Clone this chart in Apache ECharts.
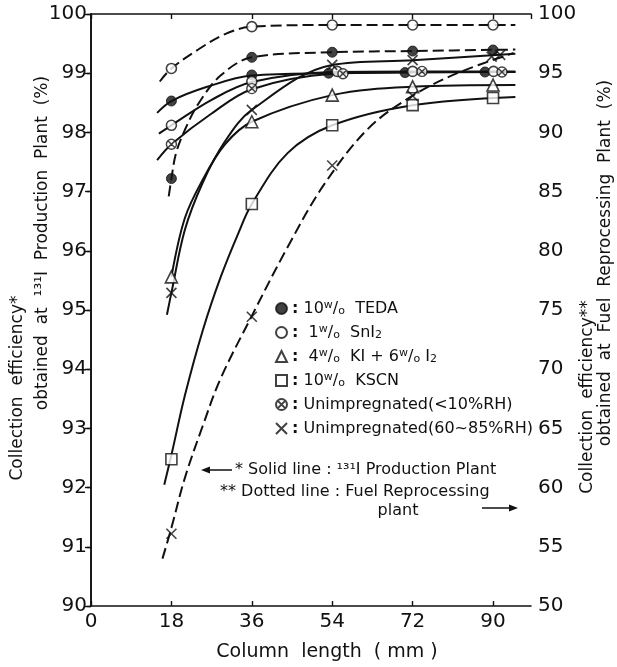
<!DOCTYPE html>
<html><head><meta charset="utf-8">
<script src="https://cdn.jsdelivr.net/npm/echarts@6/dist/echarts.min.js"></script>
<style>html,body{margin:0;padding:0;background:#fff}#c{width:617px;height:667px}</style>
</head><body><div id="c"></div>
<script>
// ---- data ----
const columnLength = [18, 36, 54, 72, 90];            // mm (nominal)
const xTickLabels = [0, 18, 36, 54, 72, 90];
// plotted marker x positions (markers of overlapping series are shifted in the figure)
const xTeda  = [18, 36, 53.2, 70.3, 88.2];
const xSnI   = [18, 36, 55.1, 72.0, 90.1];
const xDry   = [18, 36, 56.4, 74.1, 92.0];
const xWet   = [18, 36, 54, 72, 91.6];
const xWetF  = [18, 36, 54, 72, 89.7];

// 131I Production plant (left axis, solid lines)
const tedaProd   = [98.53, 98.97, 99.00, 99.01, 99.02];
const sniProd    = [98.12, 98.86, 99.03, 99.03, 99.03];
const kiProd     = [95.56, 98.18, 98.63, 98.77, 98.80];
const kscnProd   = [92.48, 96.79, 98.12, 98.46, 98.58];
const dryProd    = [97.80, 98.74, 98.99, 99.03, 99.02];
const wetProd    = [95.29, 98.38, 99.14, 99.22, 99.31];
// Fuel reprocessing plant (right axis, dashed lines)
const tedaFuel   = [86.1, 96.34, 96.77, 96.87, 96.96];
const sniFuel    = [95.4, 98.93, 99.07, 99.07, 99.07];
const wetFuel    = [56.1, 74.43, 87.2, 93.1, 96.4];

// fitted curves as drawn in the figure ([x, y])
const tedaProdCurve = [[14.8,98.33],[18,98.53],[26,98.77],[36,98.96],[54,99.0],[72,99.01],[95,99.02]];
const sniProdCurve  = [[15.2,97.98],[18,98.12],[27,98.55],[36,98.85],[54,99.02],[72,99.03],[95,99.03]];
const dryProdCurve  = [[14.8,97.53],[18,97.80],[27,98.32],[36,98.73],[54,98.99],[72,99.02],[95,99.02]];
const kiProdCurve   = [[18,95.56],[21,96.55],[25,97.2],[30,97.8],[36,98.18],[54,98.63],[72,98.77],[95,98.8]];
const wetProdCurve  = [[17,94.92],[18,95.29],[21,96.35],[25,97.15],[30,97.85],[36,98.38],[54,99.14],[72,99.22],[95,99.33]];
const kscnProdCurve = [[16.4,92.05],[18,92.55],[21,93.55],[25,94.65],[29,95.55],[33,96.3],[36,96.79],[44,97.65],[54,98.12],[72,98.46],[95,98.6]];
const tedaFuelCurve = [[17.4,84.6],[18,86.1],[19,88.2],[21,90.2],[24,92.4],[29,94.8],[36,96.34],[54,96.77],[72,96.87],[95,97.0]];
const sniFuelCurve  = [[15.4,94.3],[18,95.4],[24,97.0],[30,98.3],[36,98.93],[54,99.07],[72,99.07],[95,99.07]];
const wetFuelCurve  = [[16,54.0],[18,56.6],[21,60.8],[25,65.2],[29,69.2],[36,74.5],[44,80.3],[52,85.5],[62,90.3],[72,93.1],[82,95.0],[94.6,96.7]];

const names = ['TEDA','SnI2','KI','KSCN','DRY','WET'];
const legendText = {
  TEDA: '{c|:} {t|10}{sp|w}{t|/}{sb|o}{t|  TEDA}',
  SnI2: '{c|:}  {t|1}{sp|w}{t|/}{sb|o}{t|  SnI}{sb|2}',
  KI:   '{c|:}  {t|4}{sp|w}{t|/}{sb|o}{t|  KI + 6}{sp|w}{t|/}{sb|o}{t| I}{sb|2}',
  KSCN: '{c|:} {t|10}{sp|w}{t|/}{sb|o}{t|  KSCN}',
  DRY:  '{c|:} {t|Unimpregnated(<10%RH)}',
  WET:  '{c|:} {t|Unimpregnated(60~85%RH)}'
};

const INK = '#111';
const FONT = 'DejaVu Sans';
const zip = (xs, ys) => xs.map((x, i) => [x, ys[i]]);

const crossPath = 'path://M0,0L20,20M20,0L0,20';
const otimesPath = 'path://M10,0A10,10 0 1,1 10,20A10,10 0 1,1 10,0Z M3,3L17,17M17,3L3,17';
const markers = {
  TEDA: {symbol:'circle', symbolSize:10, itemStyle:{color:INK, borderColor:INK, borderWidth:1}},
  SnI2: {symbol:'circle', symbolSize:10, itemStyle:{color:'#fff', borderColor:INK, borderWidth:1.6}},
  KI:   {symbol:'triangle', symbolSize:12, itemStyle:{color:'#fff', borderColor:INK, borderWidth:1.6}},
  KSCN: {symbol:'rect', symbolSize:11, itemStyle:{color:'#fff', borderColor:INK, borderWidth:1.6}},
  DRY:  {symbol:otimesPath, symbolSize:10, itemStyle:{color:'#fff', borderColor:INK, borderWidth:1.4}},
  WET:  {symbol:crossPath, symbolSize:10, itemStyle:{color:'#fff', borderColor:INK, borderWidth:1.6}}
};

function scatter(name, data, yAxisIndex) {
  return Object.assign({type:'scatter', name, data, yAxisIndex, z:5, silent:true}, markers[name]);
}
function curve(id, data, yAxisIndex, dashed) {
  return {type:'line', name:id, data, yAxisIndex, smooth:0.35, symbol:'none', silent:true, z:3,
    lineStyle:{color:INK, width:2, type: dashed ? [11,5] : 'solid'}};
}

const series = [
  curve('c1', tedaProdCurve, 0, false),
  curve('c2', sniProdCurve, 0, false),
  curve('c3', dryProdCurve, 0, false),
  curve('c4', kiProdCurve, 0, false),
  curve('c5', wetProdCurve, 0, false),
  curve('c6', kscnProdCurve, 0, false),
  curve('c7', tedaFuelCurve, 1, true),
  curve('c8', sniFuelCurve, 1, true),
  curve('c9', wetFuelCurve, 1, true),
  scatter('TEDA', zip(xTeda, tedaProd), 0),
  scatter('SnI2', zip(xSnI, sniProd), 0),
  scatter('KI', zip(columnLength, kiProd), 0),
  scatter('KSCN', zip(columnLength, kscnProd), 0),
  scatter('DRY', zip(xDry, dryProd), 0),
  scatter('WET', zip(xWet, wetProd), 0),
  scatter('TEDA', zip(columnLength, tedaFuel), 1),
  scatter('SnI2', zip(columnLength, sniFuel), 1),
  scatter('WET', zip(xWetF, wetFuel), 1)
];

const axisLine = {show:true, lineStyle:{color:INK, width:1.6}};
const labelFont = {fontFamily:FONT, fontSize:20, color:INK};
const T = (x, y, text, size, align, rot) => ({type:'text', x, y, rotation: rot || 0,
  style:{text, font: size + 'px "DejaVu Sans"', fill:INK, align, verticalAlign:'middle', textAlign:align, textVerticalAlign:'middle'}});

const option = {
  animation:false,
  backgroundColor:'#fff',
  grid:{left:91, right:86, top:14, bottom:61, containLabel:false},
  xAxis:[
    {type:'value', position:'bottom', min:0, max:98.5, interval:18, axisLine,
     axisTick:{inside:true, length:5, lineStyle:{color:INK, width:1.4}},
     axisLabel:Object.assign({margin:6, showMaxLabel:false,
       formatter:v => xTickLabels.includes(v) ? String(v) : ''}, labelFont),
     splitLine:{show:false}},
    {type:'value', position:'top', min:0, max:98.5, interval:18, axisLine,
     axisTick:{inside:true, length:5, lineStyle:{color:INK, width:1.4}},
     axisLabel:{show:false}, splitLine:{show:false}}
  ],
  yAxis:[
    {type:'value', position:'left', min:90, max:100, interval:1, axisLine,
     axisTick:{inside:false, length:4, lineStyle:{color:INK, width:1.4}},
     axisLabel:Object.assign({margin:4}, labelFont), splitLine:{show:false}},
    {type:'value', position:'right', min:50, max:100, interval:5, axisLine,
     axisTick:{inside:true, length:6, lineStyle:{color:INK, width:1.4}},
     axisLabel:Object.assign({margin:7}, labelFont), splitLine:{show:false}}
  ],
  legend:{
    orient:'vertical', left:270, top:295, itemGap:7, itemWidth:11, itemHeight:11,
    selectedMode:false, data:names,
    formatter:n => legendText[n],
    textStyle:{fontFamily:FONT, fontSize:16, color:INK, lineHeight:17,
      rich:{
        c:{fontFamily:FONT, fontSize:16, fontWeight:'bold', color:INK, lineHeight:17},
        t:{fontFamily:FONT, fontSize:16, color:INK, lineHeight:17},
        sp:{fontFamily:FONT, fontSize:11, color:INK, lineHeight:17, verticalAlign:'top'},
        sb:{fontFamily:FONT, fontSize:11, color:INK, lineHeight:17, verticalAlign:'bottom'}
      }}
  },
  graphic:[
    T(327, 652, 'Column  length  ( mm )', 19, 'center'),
    T(18, 388, 'Collection  efficiency*', 17, 'center', Math.PI/2),
    T(43, 243, 'obtained  at  ¹³¹I  Production  Plant  (%)', 17, 'center', Math.PI/2),
    T(588, 397, 'Collection  efficiency**', 17, 'center', Math.PI/2),
    T(606, 263, 'obtained  at  Fuel  Reprocessing  Plant  (%)', 17, 'center', Math.PI/2),
    T(235, 470, '* Solid line : ¹³¹I Production Plant', 16, 'left'),
    T(220, 492, '** Dotted line : Fuel Reprocessing', 16, 'left'),
    T(398, 511, 'plant', 16, 'center'),
    {type:'line', shape:{x1:206, y1:470, x2:232, y2:470}, style:{stroke:INK, lineWidth:1.5}},
    {type:'polygon', shape:{points:[[201,470],[210,466.5],[210,473.5]]}, style:{fill:INK}},
    {type:'line', shape:{x1:482, y1:508, x2:512, y2:508}, style:{stroke:INK, lineWidth:1.5}},
    {type:'polygon', shape:{points:[[518,508],[509,504.5],[509,511.5]]}, style:{fill:INK}}
  ],
  series
};
const chart = echarts.init(document.getElementById('c'), null, {renderer:'canvas'});
chart.setOption(option);
</script></body></html>
